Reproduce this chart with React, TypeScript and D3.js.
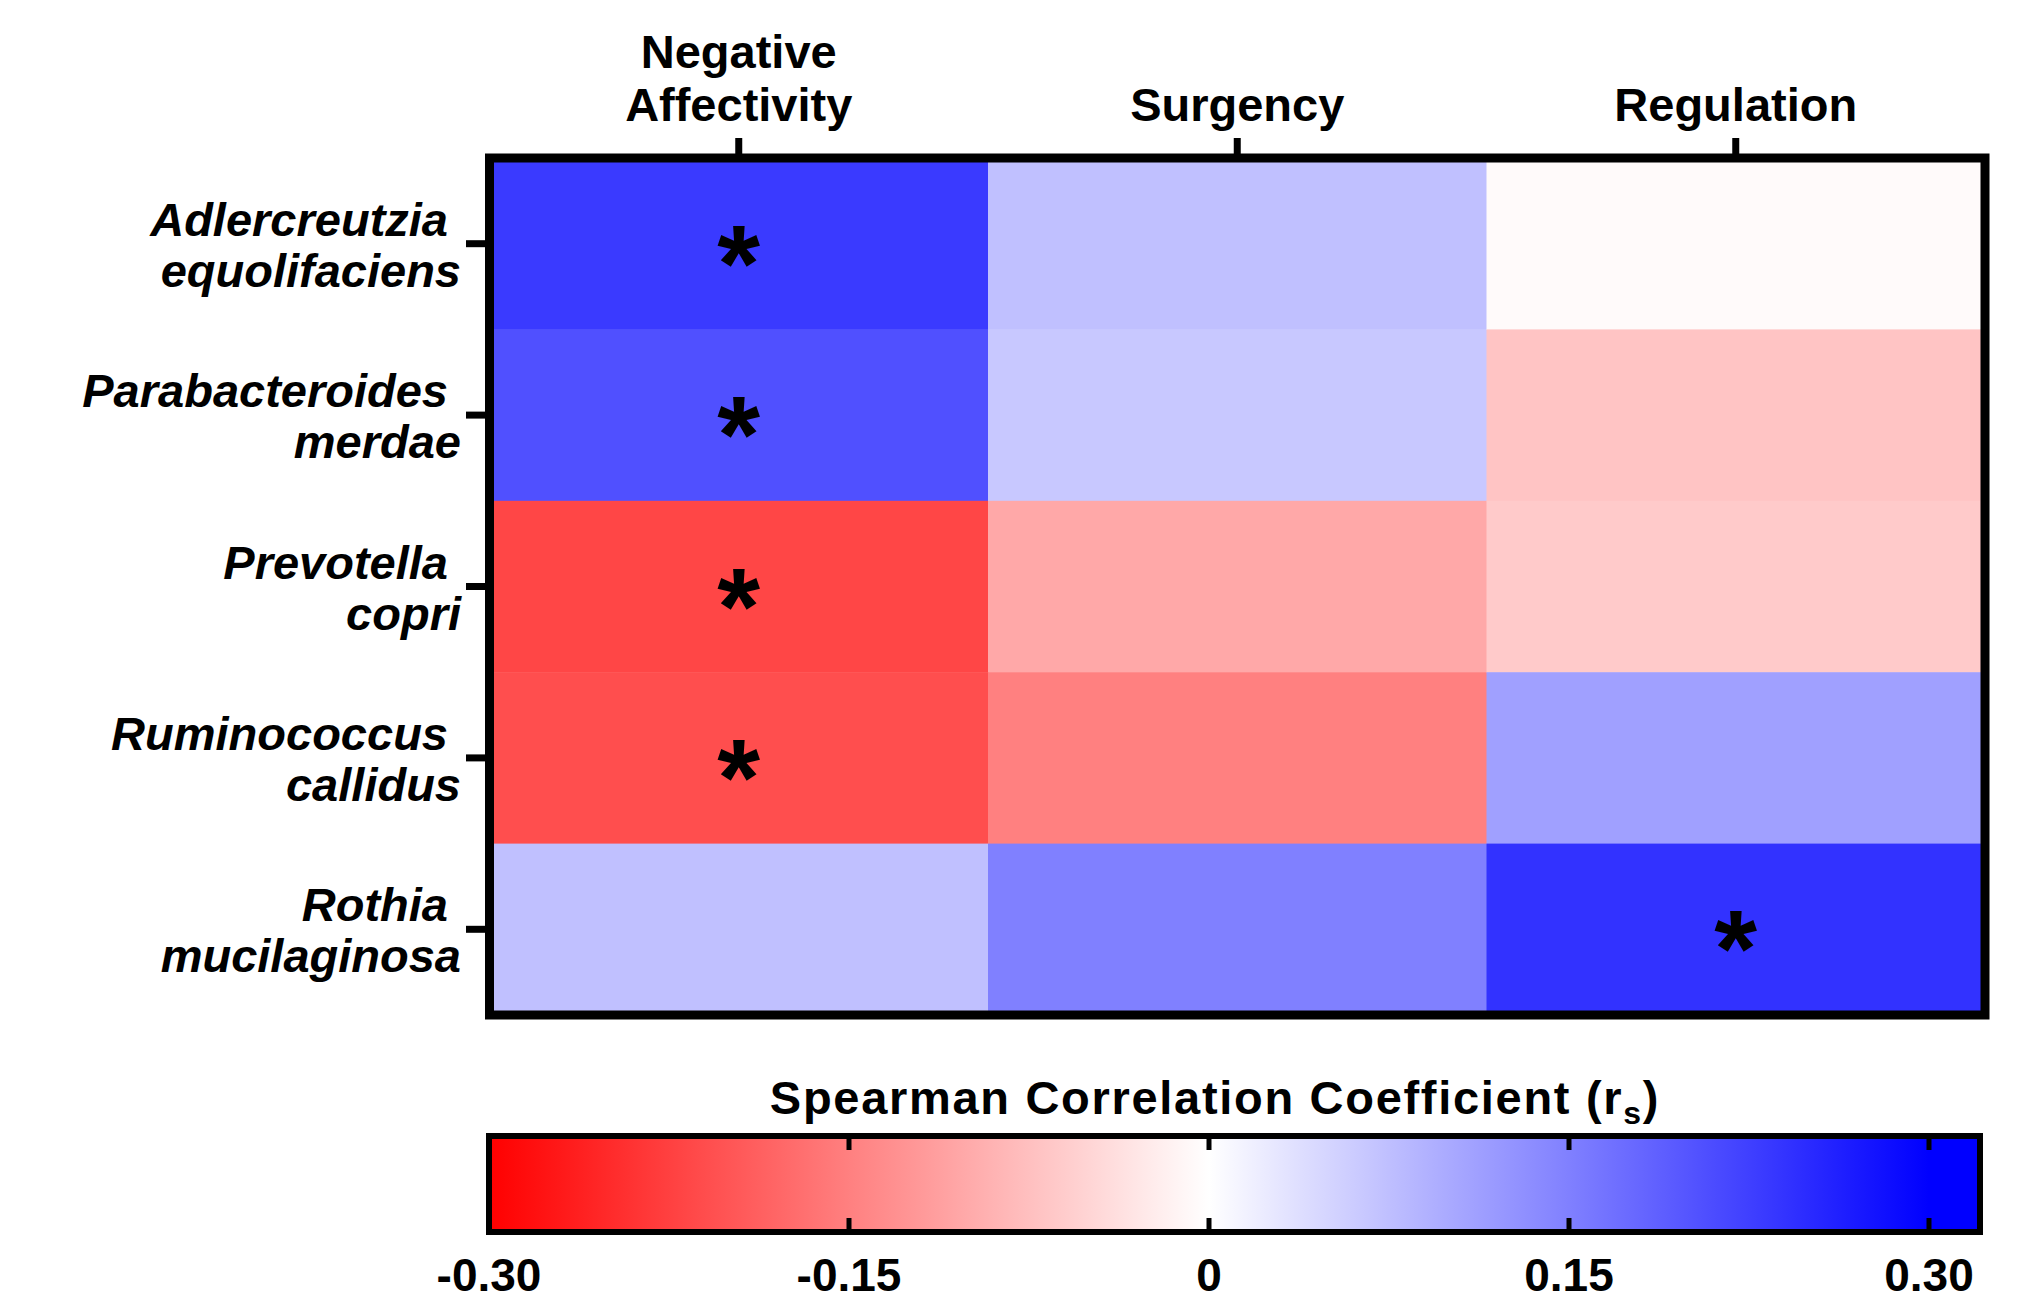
import * as d3 from "d3";

const traits = ["Negative\nAffectivity", "Surgency", "Regulation"];
const taxa = [
  "Adlercreutzia\nequolifaciens",
  "Parabacteroides\nmerdae",
  "Prevotella\ncopri",
  "Ruminococcus\ncallidus",
  "Rothia\nmucilaginosa",
];
// spearman r, one array per trait (rows follow taxa)
const negAffect = [0.232, 0.206, -0.218, -0.208, 0.074];
const surgency = [0.074, 0.065, -0.102, -0.149, 0.149];
const regulation = [-0.006, -0.069, -0.062, 0.112, 0.241];
// significant cells (trait index, taxon index)
const stars = [
  [0, 0],
  [0, 1],
  [0, 2],
  [0, 3],
  [2, 4],
];
const legendTicks = [-0.3, -0.15, 0, 0.15, 0.3];
const legendLabels = ["-0.30", "-0.15", "0", "0.15", "0.30"];

const font = "'Liberation Sans', Arial, Helvetica, sans-serif";

export default function App() {
  const width = 2018;
  const height = 1300;
  const box = { left: 489.5, right: 1985, top: 158, bottom: 1015 };

  const x = d3.scaleBand<number>()
    .domain(d3.range(traits.length))
    .range([box.left, box.right]);
  const y = d3.scaleBand<number>()
    .domain(d3.range(taxa.length))
    .range([box.top, box.bottom]);

  const color = d3.scaleLinear<string>()
    .domain([-0.3, 0, 0.3])
    .range(["#ff0000", "#ffffff", "#0000ff"])
    .clamp(true);

  const cols = [negAffect, surgency, regulation];
  const cells = cols.flatMap((vals, ci) => vals.map((v, ri) => ({ ci, ri, v })));

  // colour bar
  const bar = { left: 489, right: 1980, top: 1136, bottom: 1232 };
  const lx = d3.scaleLinear().domain([-0.3, 0.3]).range([489, 1929]);
  const stops = d3.range(0, 1.0001, 0.05).map(t => ({ t, c: color(-0.3 + 0.6 * t) }));

  return (
    <svg width={width} height={height} style={{ position: "absolute", left: 0, top: 0, background: "#fff" }}
      fontFamily={font} fontWeight="bold">
      <defs>
        <linearGradient id="cbar" gradientUnits="userSpaceOnUse" x1={lx(-0.3)} x2={lx(0.3)} y1={0} y2={0}>
          {stops.map(s => <stop key={s.t} offset={s.t} stopColor={s.c} />)}
        </linearGradient>
      </defs>

      {cells.map(d => (
        <rect key={`${d.ci}-${d.ri}`} x={x(d.ci)} y={y(d.ri)}
          width={x.bandwidth() + 0.5} height={y.bandwidth() + 0.5} fill={color(d.v)} />
      ))}

      {stars.map(([ci, ri]) => (
        <text key={`s${ci}-${ri}`} x={x(ci)! + x.bandwidth() / 2} y={y(ri)! + y.bandwidth() / 2 + 57}
          textAnchor="middle" fontSize={110} fill="#000">*</text>
      ))}

      <rect x={box.left} y={box.top} width={box.right - box.left} height={box.bottom - box.top}
        fill="none" stroke="#000" strokeWidth={9} />

      {/* top axis */}
      {traits.map((t, i) => {
        const cx = x(i)! + x.bandwidth() / 2;
        const lines = t.split("\n");
        return (
          <g key={t}>
            <line x1={cx} x2={cx} y1={138} y2={box.top} stroke="#000" strokeWidth={7} />
            {lines.map((l, k) => (
              <text key={l} x={cx} y={121 - (lines.length - 1 - k) * 53} textAnchor="middle"
                fontSize={47} fill="#000">{l}</text>
            ))}
          </g>
        );
      })}

      {/* left axis */}
      {taxa.map((t, i) => {
        const cy = y(i)! + y.bandwidth() / 2;
        const [a, b] = t.split("\n");
        return (
          <g key={t}>
            <line x1={466} x2={box.left} y1={cy} y2={cy} stroke="#000" strokeWidth={7} />
            <text x={448} y={cy - 8} textAnchor="end" fontSize={47} fontStyle="italic" fill="#000">{a}</text>
            <text x={461} y={cy + 43} textAnchor="end" fontSize={47} fontStyle="italic" fill="#000">{b}</text>
          </g>
        );
      })}

      {/* colour legend */}
      <text x={1215} y={1114} textAnchor="middle" fontSize={47} letterSpacing={1.7} fill="#000">
        Spearman Correlation Coefficient (r<tspan fontSize={32} dy={10}>s</tspan><tspan dy={-10}>)</tspan>
      </text>
      <rect x={bar.left} y={bar.top} width={bar.right - bar.left} height={bar.bottom - bar.top}
        fill="url(#cbar)" stroke="#000" strokeWidth={6} />
      {legendTicks.map((v, i) => (
        <g key={v}>
          {i > 0 && (
            <>
              <line x1={lx(v)} x2={lx(v)} y1={bar.top} y2={bar.top + 14} stroke="#000" strokeWidth={5} />
              <line x1={lx(v)} x2={lx(v)} y1={bar.bottom} y2={bar.bottom - 14} stroke="#000" strokeWidth={5} />
            </>
          )}
          <text x={lx(v)} y={1291} textAnchor="middle" fontSize={46} fill="#000">{legendLabels[i]}</text>
        </g>
      ))}
    </svg>
  );
}
